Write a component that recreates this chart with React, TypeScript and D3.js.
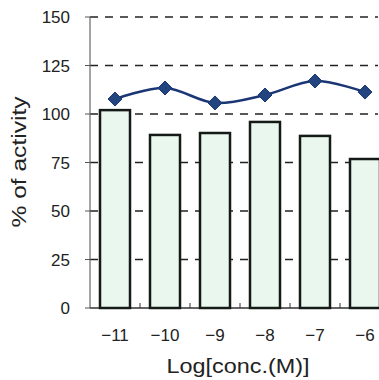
import React from "react";
import * as d3 from "d3";

const categories = ["-11", "-10", "-9", "-8", "-7", "-6"];
const barValues = [102, 89.2, 90.2, 95.9, 88.7, 76.8];
const lineValues = [107.7, 113.4, 105.7, 109.8, 117, 111.3];
const yTicks = [0, 25, 50, 75, 100, 125, 150];

export default function App() {
  const W = 379, H = 380;
  const left = 90, top = 17, bottom = 308, right = 390;
  const x = d3.scaleBand<string>().domain(categories).range([left, right]).paddingInner(0.4).paddingOuter(0.2);
  const y = d3.scaleLinear().domain([0, 150]).range([bottom, top]);
  const cx = (c: string) => (x(c) as number) + x.bandwidth() / 2;
  const line = d3.line<number>().x((_, i) => cx(categories[i])).y((v) => y(v)).curve(d3.curveCatmullRom.alpha(0.5));
  const step = x.step();
  const font = "'Liberation Sans', Arial, sans-serif";
  return (
    <svg width={W} height={H} style={{ position: "absolute", left: 0, top: 0, background: "#fff" }}>
      {yTicks.filter((t) => t > 0).map((t) => (
        <line key={t} x1={left} x2={378} y1={y(t)} y2={y(t)} stroke="#222" strokeWidth={1.3} strokeDasharray="8,7" />
      ))}
      <line x1={left} x2={left} y1={top} y2={bottom} stroke="#666" strokeWidth={1.2} />
      <line x1={left} x2={W} y1={bottom} y2={bottom} stroke="#333" strokeWidth={1.5} />
      {yTicks.map((t) => (
        <g key={t}>
          <line x1={left - 5} x2={left} y1={y(t)} y2={y(t)} stroke="#555" strokeWidth={1} />
          <text x={70} y={y(t)} dy="0.36em" textAnchor="end" fontFamily={font} fontSize={17} fill="#222">{t}</text>
        </g>
      ))}
      {categories.slice(0, -1).map((c) => (
        <line key={"mt" + c} x1={cx(c) + step / 2} x2={cx(c) + step / 2} y1={bottom} y2={bottom - 5} stroke="#333" strokeWidth={1} />
      ))}
      {categories.map((c, i) => (
        <rect key={c} x={x(c)} y={y(barValues[i])} width={x.bandwidth()} height={bottom - y(barValues[i])} fill="#eaf7ef" stroke="#141a16" strokeWidth={2.5} />
      ))}
      <path d={line(lineValues) || ""} fill="none" stroke="#1b3674" strokeWidth={2.5} />
      {lineValues.map((v, i) => {
        const px = cx(categories[i]), py = y(v), r = 7;
        return <path key={i} d={`M${px},${py - r}L${px + r},${py}L${px},${py + r}L${px - r},${py}Z`} fill="#22457f" stroke="#1b3674" strokeWidth={1} />;
      })}
      {categories.map((c) => (
        <text key={"xl" + c} x={cx(c)} y={341} textAnchor="middle" fontFamily={font} fontSize={17} fill="#222">{c.replace("-", "\u2212")}</text>
      ))}
      <text x={238} y={373} textAnchor="middle" fontFamily={font} fontSize={21} textLength={143} lengthAdjust="spacingAndGlyphs" fill="#222">Log[conc.(M)]</text>
      <text transform={`translate(26,162) rotate(-90)`} textAnchor="middle" fontFamily={font} fontSize={21} textLength={131} lengthAdjust="spacingAndGlyphs" fill="#222">% of activity</text>
    </svg>
  );
}
